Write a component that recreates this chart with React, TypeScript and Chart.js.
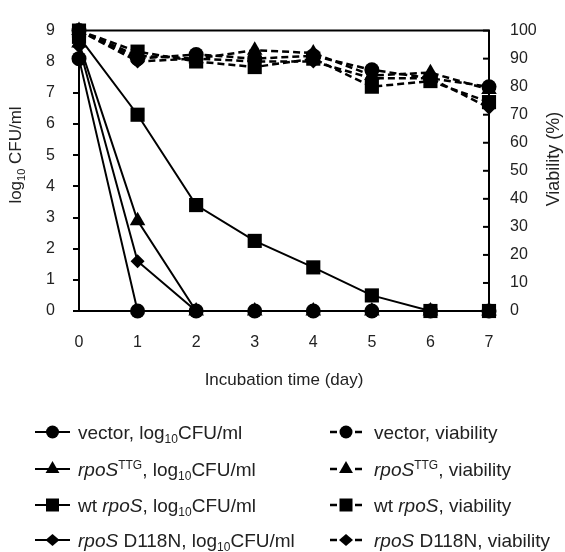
import React, { useEffect, useRef } from 'react';
import { Chart, registerables } from 'chart.js';

Chart.register(...registerables);

const FONT = '"Liberation Sans", Arial, Helvetica, sans-serif';
const TXT = '#222';

// Incubation time (day)
const days = [0, 1, 2, 3, 4, 5, 6, 7];

// log10 CFU/ml
const vectorLog = [8.1, 0, 0, 0, 0, 0, 0, 0];
const ttgLog = [8.6, 2.9, 0, 0, 0, 0, 0, 0];
const wtLog = [8.8, 6.3, 3.4, 2.25, 1.4, 0.5, 0, 0];
const d118nLog = [8.5, 1.6, 0, 0, 0, 0, 0, 0];

// Viability (%)
const vectorVia = [100, 90, 91.5, 90, 91, 86, 83, 80];
const ttgVia = [100, 91, 90, 93, 92, 84, 85, 79];
const wtVia = [100, 92.5, 89, 87, 90, 80, 82, 74.5];
const d118nVia = [100, 89, 90, 89, 89, 83, 83, 72.5];

type Seg = { t: string; it?: boolean; sup?: boolean; sub?: boolean };

const leftLegend: { style: string; segs: Seg[] }[] = [
  { style: 'circle', segs: [{ t: 'vector, log' }, { t: '10', sub: true }, { t: 'CFU/ml' }] },
  { style: 'triangle', segs: [{ t: 'rpoS', it: true }, { t: 'TTG', sup: true }, { t: ', log' }, { t: '10', sub: true }, { t: 'CFU/ml' }] },
  { style: 'rect', segs: [{ t: 'wt ' }, { t: 'rpoS', it: true }, { t: ', log' }, { t: '10', sub: true }, { t: 'CFU/ml' }] },
  { style: 'rectRot', segs: [{ t: 'rpoS', it: true }, { t: ' D118N, log' }, { t: '10', sub: true }, { t: 'CFU/ml' }] },
];
const rightLegend: { style: string; segs: Seg[] }[] = [
  { style: 'circle', segs: [{ t: 'vector, viability' }] },
  { style: 'triangle', segs: [{ t: 'rpoS', it: true }, { t: 'TTG', sup: true }, { t: ', viability' }] },
  { style: 'rect', segs: [{ t: 'wt ' }, { t: 'rpoS', it: true }, { t: ', viability' }] },
  { style: 'rectRot', segs: [{ t: 'rpoS', it: true }, { t: ' D118N, viability' }] },
];

function segFont(s: Seg, size: number) {
  const fs = s.sup || s.sub ? Math.round(size * 0.62) : size;
  return `${s.it ? 'italic ' : ''}${fs}px ${FONT}`;
}

function richWidth(ctx: CanvasRenderingContext2D, segs: Seg[], size: number) {
  let w = 0;
  for (const s of segs) {
    ctx.font = segFont(s, size);
    w += ctx.measureText(s.t).width;
  }
  return w;
}

function drawRich(ctx: CanvasRenderingContext2D, segs: Seg[], x: number, y: number, size: number) {
  let cx = x;
  ctx.textAlign = 'left';
  ctx.textBaseline = 'alphabetic';
  for (const s of segs) {
    ctx.font = segFont(s, size);
    const dy = s.sup ? -size * 0.36 : s.sub ? size * 0.22 : 0;
    ctx.fillText(s.t, cx, y + dy);
    cx += ctx.measureText(s.t).width;
  }
}

function drawMarker(ctx: CanvasRenderingContext2D, style: string, x: number, y: number) {
  ctx.beginPath();
  if (style === 'circle') {
    ctx.arc(x, y, 6.5, 0, Math.PI * 2);
  } else if (style === 'rect') {
    ctx.rect(x - 6.5, y - 6.5, 13, 13);
  } else if (style === 'triangle') {
    const r = 8;
    ctx.moveTo(x, y - r);
    ctx.lineTo(x + r * 0.866, y + r / 2);
    ctx.lineTo(x - r * 0.866, y + r / 2);
    ctx.closePath();
  } else {
    ctx.moveTo(x, y - 6);
    ctx.lineTo(x + 7, y);
    ctx.lineTo(x, y + 6);
    ctx.lineTo(x - 7, y);
    ctx.closePath();
  }
  ctx.fill();
}

const decorPlugin = {
  id: 'decor',
  afterDraw(chart: any) {
    const ctx: CanvasRenderingContext2D = chart.ctx;
    const { left, right, top } = chart.chartArea;
    const y2 = chart.scales.y2;
    ctx.save();
    ctx.strokeStyle = '#000';
    ctx.fillStyle = '#000';
    // top frame line
    ctx.lineWidth = 2;
    ctx.beginPath();
    ctx.moveTo(left - 1, top);
    ctx.lineTo(right + 1, top);
    ctx.stroke();
    // inward ticks on the right axis
    for (const t of y2.ticks) {
      const py = y2.getPixelForValue(t.value);
      ctx.beginPath();
      ctx.moveTo(right - 6, py);
      ctx.lineTo(right, py);
      ctx.stroke();
    }

    // y axis titles
    ctx.fillStyle = TXT;
    const leftTitle: Seg[] = [{ t: 'log' }, { t: '10', sub: true }, { t: ' CFU/ml' }];
    const lw = richWidth(ctx, leftTitle, 17);
    ctx.save();
    ctx.translate(21, 155);
    ctx.rotate(-Math.PI / 2);
    drawRich(ctx, leftTitle, -lw / 2, 0, 17);
    ctx.restore();

    const rightTitle: Seg[] = [{ t: 'Viability (%)' }];
    const rw = richWidth(ctx, rightTitle, 18);
    ctx.save();
    ctx.translate(559, 159);
    ctx.rotate(-Math.PI / 2);
    drawRich(ctx, rightTitle, -rw / 2, 0, 18);
    ctx.restore();

    // legend
    const rows = [432, 469, 505, 540];
    const lsize = 19;
    leftLegend.forEach((item, i) => {
      const y = rows[i];
      ctx.strokeStyle = '#000';
      ctx.fillStyle = '#000';
      ctx.lineWidth = 2;
      ctx.beginPath();
      ctx.moveTo(35, y);
      ctx.lineTo(70, y);
      ctx.stroke();
      drawMarker(ctx, item.style, 52.5, y);
      ctx.fillStyle = TXT;
      drawRich(ctx, item.segs, 78, y + 6.5, lsize);
    });
    rightLegend.forEach((item, i) => {
      const y = rows[i];
      ctx.strokeStyle = '#000';
      ctx.fillStyle = '#000';
      ctx.lineWidth = 2.5;
      ctx.beginPath();
      ctx.moveTo(330, y);
      ctx.lineTo(337, y);
      ctx.moveTo(355, y);
      ctx.lineTo(362, y);
      ctx.stroke();
      drawMarker(ctx, item.style, 346, y);
      ctx.fillStyle = TXT;
      drawRich(ctx, item.segs, 374, y + 6.5, lsize);
    });
    ctx.restore();
  },
};

function pts(vals: number[]) {
  return vals.map((v, i) => ({ x: days[i], y: v }));
}

function solid(label: string, vals: number[], style: string, radius: number) {
  return {
    label,
    data: pts(vals),
    yAxisID: 'y',
    borderColor: '#000',
    backgroundColor: '#000',
    borderWidth: 2,
    pointStyle: style,
    pointRadius: radius,
    pointBorderWidth: 0,
    tension: 0,
    clip: false,
  };
}

function dashed(label: string, vals: number[], style: string, radius: number) {
  return {
    label,
    data: pts(vals),
    yAxisID: 'y2',
    borderColor: '#000',
    backgroundColor: '#000',
    borderWidth: 2.5,
    borderDash: [7, 4],
    pointStyle: style,
    pointRadius: radius,
    pointBorderWidth: 0,
    tension: 0,
    clip: false,
  };
}

export default function App() {
  const ref = useRef<HTMLCanvasElement | null>(null);

  useEffect(() => {
    document.body.style.margin = '0';
    const canvas = ref.current;
    if (!canvas) return;
    const chart = new Chart(canvas, {
      type: 'line',
      data: {
        datasets: [
          solid('vector, log10CFU/ml', vectorLog, 'circle', 7.5),
          solid('rpoS TTG, log10CFU/ml', ttgLog, 'triangle', 9),
          solid('wt rpoS, log10CFU/ml', wtLog, 'rect', 10),
          solid('rpoS D118N, log10CFU/ml', d118nLog, 'rectRot', 7),
          dashed('vector, viability', vectorVia, 'circle', 7.5),
          dashed('rpoS TTG, viability', ttgVia, 'triangle', 9),
          dashed('wt rpoS, viability', wtVia, 'rect', 10),
          dashed('rpoS D118N, viability', d118nVia, 'rectRot', 7),
        ] as any,
      },
      options: {
        responsive: false,
        animation: false,
        devicePixelRatio: 1,
        layout: { padding: { top: 16, bottom: 161, left: 0, right: 0 } },
        plugins: {
          legend: { display: false },
          tooltip: { enabled: false },
        },
        scales: {
          x: {
            type: 'linear',
            min: 0,
            max: 7,
            ticks: { stepSize: 1, font: { size: 16, family: FONT }, color: TXT, padding: 22 },
            grid: { display: false, drawTicks: false },
            border: { display: true, color: '#000', width: 2 },
            title: {
              display: true,
              text: 'Incubation time (day)',
              font: { size: 17, family: FONT },
              color: TXT,
              padding: 0,
            },
            afterFit(s: any) {
              s.height = 80;
            },
          },
          y: {
            type: 'linear',
            position: 'left',
            min: 0,
            max: 9,
            ticks: { stepSize: 1, font: { size: 16, family: FONT }, color: TXT, padding: 18 },
            grid: {
              display: true,
              drawOnChartArea: false,
              drawTicks: true,
              tickLength: 6,
              color: '#000',
              lineWidth: 2,
            },
            border: { display: true, color: '#000', width: 2 },
            afterFit(s: any) {
              s.width = 79;
            },
          },
          y2: {
            type: 'linear',
            position: 'right',
            min: 0,
            max: 100,
            ticks: { stepSize: 10, font: { size: 16, family: FONT }, color: TXT, padding: 21 },
            grid: { display: false, drawTicks: false },
            border: { display: true, color: '#000', width: 2 },
            afterFit(s: any) {
              s.width = 76;
            },
          },
        },
      } as any,
      plugins: [decorPlugin],
    });
    return () => chart.destroy();
  }, []);

  return <canvas ref={ref} width={565} height={552} style={{ display: 'block' }} />;
}
